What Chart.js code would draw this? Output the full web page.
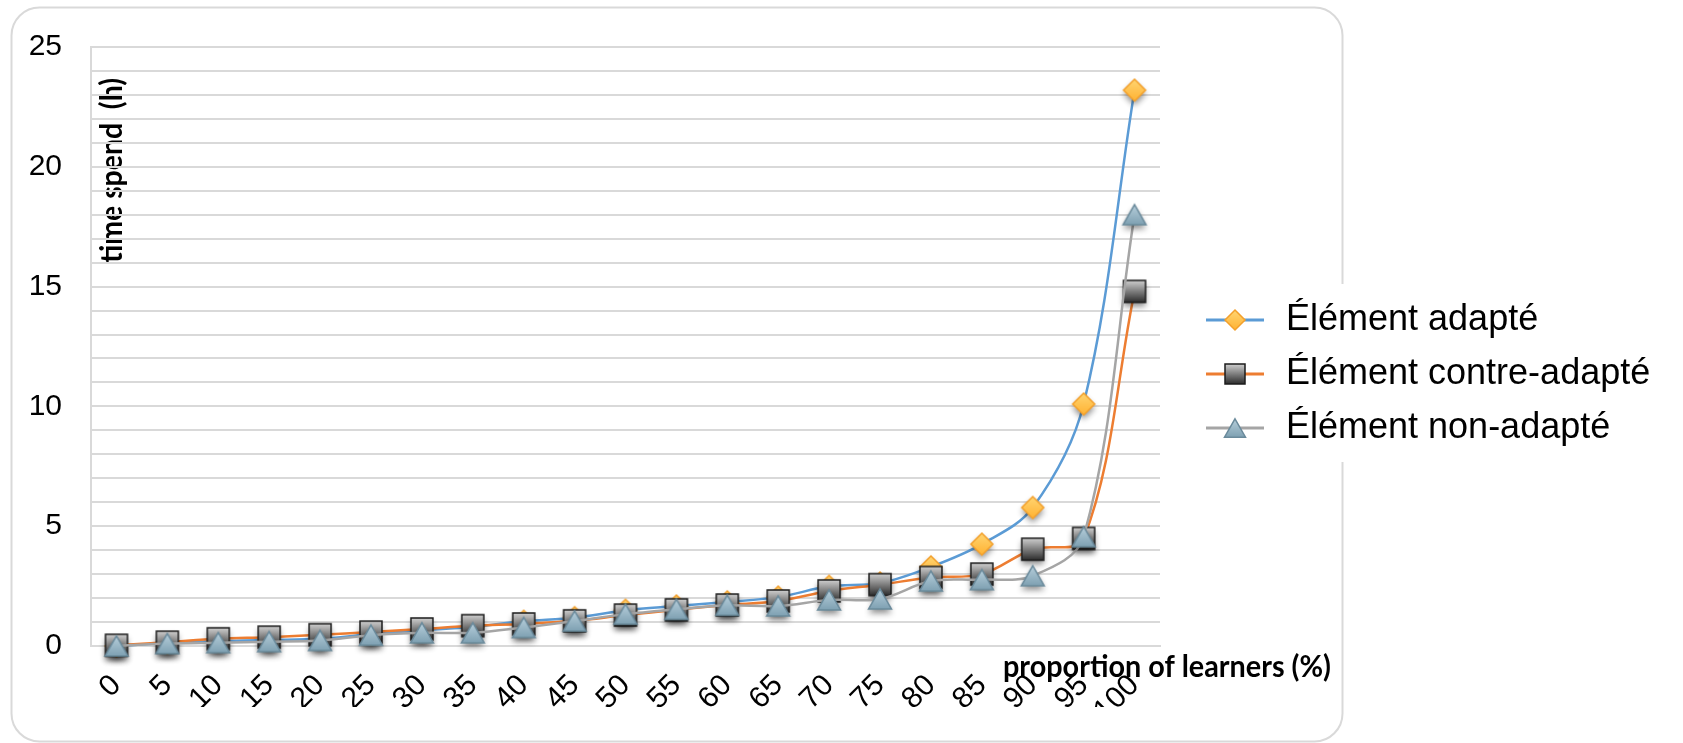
<!DOCTYPE html>
<html>
<head>
<meta charset="utf-8">
<script src="https://cdn.jsdelivr.net/npm/chart.js@4.4.1/dist/chart.umd.min.js"></script>
<style>
  html, body { margin: 0; padding: 0; background: #ffffff; }
  canvas { display: block; }
</style>
</head>
<body>
<canvas id="chart" width="1683" height="743"></canvas>
<script>
// Proportion of learners (%) on the category axis
const categories = ['0','5','10','15','20','25','30','35','40','45','50','55','60','65','70','75','80','85','90','95','100'];

// Time spent (hours) per series
const adapte       = [0, 0.12, 0.2, 0.25, 0.3, 0.5, 0.65, 0.8, 1.03, 1.18, 1.49, 1.67, 1.84, 2.04, 2.49, 2.63, 3.3, 4.25, 5.78, 10.1, 23.2];
const contreAdapte = [0.03, 0.16, 0.3, 0.37, 0.47, 0.58, 0.71, 0.85, 0.92, 1.05, 1.29, 1.51, 1.71, 1.88, 2.3, 2.56, 2.86, 3.0, 4.04, 4.49, 14.8];
const nonAdapte    = [0, 0.1, 0.14, 0.18, 0.23, 0.45, 0.55, 0.55, 0.77, 1.04, 1.33, 1.53, 1.7, 1.67, 1.92, 1.96, 2.71, 2.77, 2.93, 4.56, 18.0];

const seriesNames = ['Élément adapté', 'Élément contre-adapté', 'Élément non-adapté'];
const yTickLabels = [0, 5, 10, 15, 20, 25];
const yAxisTitle = 'time spend  (h)';
const xAxisTitle = 'proportion of learners (%)';

const FONT = "'Liberation Sans', Arial, Helvetica, sans-serif";
const TITLE_FONT = "bold 30px Lato, 'Open Sans', sans-serif";

// plot frame and legend geometry
const CANVAS_W = 1683;
const PLOT_RIGHT = 1160;
const LEGEND_FONT = 36;
const LEGEND_PAD = 18;
const LEGEND_BOX = 90;

const lineColors = ['#5B9BD5', '#ED7D31', '#A5A5A5'];
const markerLook = {
  diamond:  { top: '#FFD572', bottom: '#FFB232', edge: '#F3A02C', size: 22 },
  square:   { top: '#CFCFCF', bottom: '#2C2C2C', edge: '#1C1C1C', size: 22 },
  triangle: { top: '#BBD2DE', bottom: '#7A9DAF', edge: '#6A8A9B', size: 23 }
};

function shapePath(g, kind, cx, cy, s) {
  g.beginPath();
  if (kind === 'diamond') {
    const h = s / 2;
    g.moveTo(cx, cy - h); g.lineTo(cx + h, cy); g.lineTo(cx, cy + h); g.lineTo(cx - h, cy);
    g.closePath();
  } else if (kind === 'square') {
    g.rect(cx - s / 2, cy - s / 2, s, s);
  } else {
    const h = s * 0.88 / 2;
    g.moveTo(cx, cy - h); g.lineTo(cx + s / 2, cy + h); g.lineTo(cx - s / 2, cy + h);
    g.closePath();
  }
}

// Marker bitmap; the legend version carries the series line through it
function makeMarker(kind, lineColor, forLegend) {
  const look = markerLook[kind];
  const W = forLegend ? 100 : 44, H = 44;
  const cv = document.createElement('canvas');
  cv.width = W; cv.height = H;
  const g = cv.getContext('2d');
  const s = forLegend ? look.size - 2 : look.size;
  const cx = forLegend ? 62 : W / 2, cy = H / 2;
  if (forLegend) {
    g.strokeStyle = lineColor; g.lineWidth = 3;
    g.beginPath(); g.moveTo(33, cy); g.lineTo(91, cy); g.stroke();
  }
  const grad = g.createLinearGradient(0, cy - s / 2, 0, cy + s / 2);
  grad.addColorStop(0, look.top);
  grad.addColorStop(1, look.bottom);
  g.save();
  if (!forLegend) {
    g.shadowColor = 'rgba(0,0,0,0.45)';
    g.shadowBlur = 6;
    g.shadowOffsetY = 4;
  }
  shapePath(g, kind, cx, cy, s);
  g.fillStyle = grad;
  g.fill();
  g.restore();
  shapePath(g, kind, cx, cy, s);
  g.strokeStyle = look.edge; g.lineWidth = 1.5;
  g.stroke();
  return cv;
}

const kinds = ['diamond', 'square', 'triangle'];
const pointIcons = kinds.map((k, i) => makeMarker(k, lineColors[i], false));
const legendIcons = kinds.map((k, i) => makeMarker(k, lineColors[i], true));

// right padding so that the legend column starts where the plot ends
const measurer = document.createElement('canvas').getContext('2d');
measurer.font = LEGEND_FONT + 'px ' + FONT;
const longestLabel = Math.max(...seriesNames.map(t => measurer.measureText(t).width));
const legendWidth = LEGEND_PAD + LEGEND_BOX + LEGEND_FONT / 2 + longestLabel + 10;
const padRight = Math.max(0, CANVAS_W - PLOT_RIGHT - legendWidth);

function drawScaledText(ctx, text, x, y, targetWidth, angle, align) {
  ctx.font = TITLE_FONT;
  const w = ctx.measureText(text).width;
  ctx.save();
  ctx.translate(x, y);
  if (angle) ctx.rotate(angle);
  ctx.scale(targetWidth / w, 1);
  ctx.textAlign = align;
  ctx.textBaseline = 'alphabetic';
  ctx.fillStyle = '#000';
  ctx.fillText(text, 0, 0);
  ctx.restore();
}

function roundedRect(ctx, x, y, w, h, r) {
  ctx.beginPath();
  ctx.moveTo(x + r, y);
  ctx.lineTo(x + w - r, y);
  ctx.arcTo(x + w, y, x + w, y + r, r);
  ctx.lineTo(x + w, y + h - r);
  ctx.arcTo(x + w, y + h, x + w - r, y + h, r);
  ctx.lineTo(x + r, y + h);
  ctx.arcTo(x, y + h, x, y + h - r, r);
  ctx.lineTo(x, y + r);
  ctx.arcTo(x, y, x + r, y, r);
  ctx.closePath();
}

const framePlugin = {
  id: 'frame',
  beforeDraw(chart) {
    const ctx = chart.ctx;
    ctx.save();
    ctx.fillStyle = '#ffffff';
    ctx.fillRect(0, 0, chart.width, chart.height);
    roundedRect(ctx, 11.5, 7.5, 1331, 734, 28);
    ctx.strokeStyle = '#D9D9D9';
    ctx.lineWidth = 2;
    ctx.stroke();
    // legend panel sits on top of the frame edge
    ctx.fillStyle = '#ffffff';
    ctx.fillRect(1175, 284, 420, 178);
    // vertical axis caption inside the plot
    drawScaledText(ctx, yAxisTitle, 122, 170.5, 185, -Math.PI / 2, 'center');
    ctx.restore();
  },
  afterDraw(chart) {
    drawScaledText(chart.ctx, xAxisTitle, 1003, 677, 328, 0, 'left');
  }
};

const datasets = [adapte, contreAdapte, nonAdapte].map((vals, i) => ({
  label: seriesNames[i],
  data: vals,
  borderColor: lineColors[i],
  backgroundColor: lineColors[i],
  borderWidth: 2.5,
  tension: 0.35,
  fill: false,
  clip: false,
  pointStyle: pointIcons[i],
  pointRadius: 11,
  pointHoverRadius: 11,
  order: 3 - i
}));

Chart.defaults.font.family = FONT;
Chart.defaults.color = '#000';

new Chart(document.getElementById('chart'), {
  type: 'line',
  data: { labels: categories, datasets },
  options: {
    responsive: false,
    animation: false,
    devicePixelRatio: 1,
    layout: { padding: { top: 41, bottom: 36, left: 0, right: padRight } },
    plugins: {
      tooltip: { enabled: false },
      legend: {
        position: 'right',
        align: 'center',
        maxWidth: Math.ceil(legendWidth) + 40,
        labels: {
          usePointStyle: true,
          pointStyleWidth: LEGEND_BOX,
          padding: LEGEND_PAD,
          color: '#000',
          font: { family: FONT, size: LEGEND_FONT },
          sort: (a, b) => a.datasetIndex - b.datasetIndex,
          generateLabels(chart) {
            const items = Chart.defaults.plugins.legend.labels.generateLabels(chart);
            items.forEach(it => { it.pointStyle = legendIcons[it.datasetIndex]; });
            return items;
          }
        }
      }
    },
    scales: {
      x: {
        type: 'category',
        offset: true,
        grid: { display: false, drawTicks: false },
        border: { display: true, color: '#D9D9D9', width: 2 },
        ticks: {
          autoSkip: false,
          minRotation: 45,
          maxRotation: 45,
          padding: 22,
          labelOffset: 0,
          color: '#000',
          font: { family: FONT, size: 30 }
        },
        afterFit(scale) { scale.height = 61; }
      },
      y: {
        min: 0,
        max: 25,
        grid: { color: '#D9D9D9', lineWidth: 2, drawTicks: false },
        border: { display: true, color: '#D9D9D9', width: 2 },
        ticks: {
          stepSize: 1,
          maxTicksLimit: 30,
          autoSkip: false,
          padding: 29,
          color: '#000',
          font: { family: FONT, size: 30 },
          callback: v => (yTickLabels.includes(v) ? String(v) : '')
        },
        afterFit(scale) { scale.width = 91; }
      }
    }
  },
  plugins: [framePlugin]
});
</script>
</body>
</html>
